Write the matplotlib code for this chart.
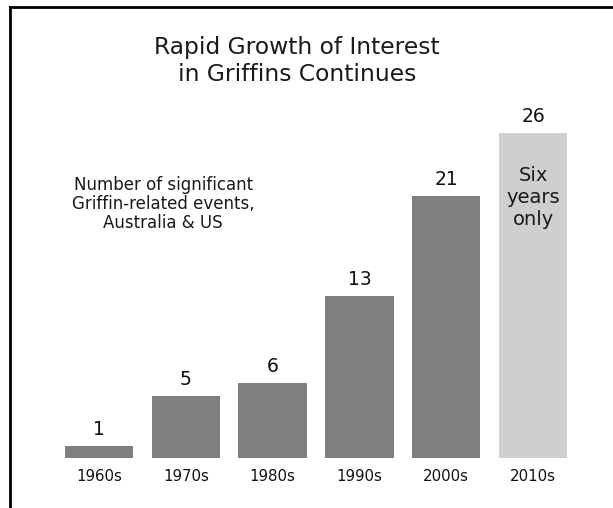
import matplotlib.pyplot as plt
from matplotlib.lines import Line2D

plt.rcParams['font.family'] = ['DejaVu Sans']

decades = ['1960s', '1970s', '1980s', '1990s', '2000s', '2010s']
events = [1, 5, 6, 13, 21, 26]
colors = ['#7f7f7f'] * 5 + ['#d0ced0']

fig = plt.figure(figsize=(6.13, 5.08), dpi=100)
ax = fig.add_axes([0.0907, 0.0984, 0.8496, 0.738])

x = range(len(decades))
ax.bar(x, events, width=0.79, color=colors)
for i, v in zip(x, events):
    ax.text(i, v + 0.55, str(v), ha='center', va='bottom', fontsize=13.5, color='#111111')

ax.text(5, 23.4, 'Six\nyears\nonly', ha='center', va='top', fontsize=14,
        color='#1a1a1a', linespacing=1.2)

ax.text(0.74, 22.6, 'Number of significant\nGriffin-related events,\nAustralia & US',
        ha='center', va='top', fontsize=12, color='#1a1a1a', linespacing=1.08)

ax.set_xlim(-0.5, 5.5)
ax.set_ylim(0, 30)
ax.set_xticks(list(x))
ax.set_xticklabels(decades, fontsize=10.8, color='#111111')
ax.tick_params(axis='x', length=0, pad=8)
ax.set_yticks([])
for s in ax.spines.values():
    s.set_visible(False)

fig.text(0.485, 0.88, 'Rapid Growth of Interest\nin Griffins Continues', ha='center',
         va='center', fontsize=16.8, color='#1a1a1a', linespacing=1.22)

# frame lines top and left
fig.add_artist(Line2D([0.0163, 1], [0.986, 0.986], color='black', lw=2, transform=fig.transFigure))
fig.add_artist(Line2D([0.0163, 0.0163], [0, 0.986], color='black', lw=2, transform=fig.transFigure))

fig.savefig('out.png', dpi=100)
